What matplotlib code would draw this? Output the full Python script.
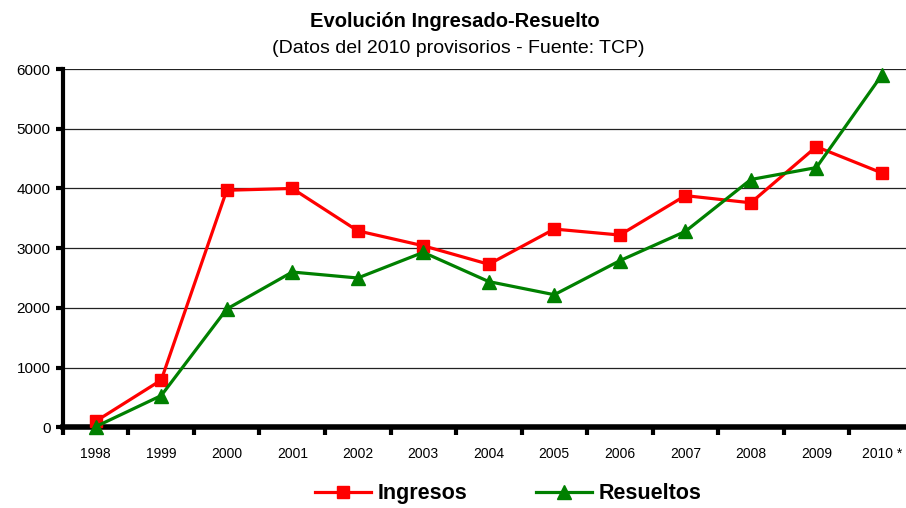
import matplotlib
matplotlib.use("Agg")
import matplotlib.pyplot as plt

plt.rcParams['font.family'] = ['Liberation Sans', 'DejaVu Sans']

years = ['1998', '1999', '2000', '2001', '2002', '2003', '2004',
         '2005', '2006', '2007', '2008', '2009', '2010 *']
ingresos = [100, 790, 3970, 4000, 3290, 3040, 2730, 3320, 3220, 3880, 3760, 4700, 4260]
resueltos = [10, 530, 1980, 2600, 2500, 2930, 2440, 2220, 2790, 3280, 4150, 4350, 5900]

fig = plt.figure(figsize=(9.06, 5.08), dpi=100)
ax = fig.add_axes([0.0695, 0.159, 0.940, 0.705])

x = list(range(len(years)))
ax.plot(x, ingresos, color='#ff0000', lw=2.3, marker='s', ms=8,
        label='Ingresos', clip_on=False, zorder=3)
ax.plot(x, resueltos, color='#008000', lw=2.3, marker='^', ms=9.5,
        label='Resueltos', clip_on=False, zorder=4)

ax.set_xlim(-0.5, len(years) - 0.5)
ax.set_ylim(0, 6000)
ax.set_yticks(range(0, 6001, 1000))
ax.yaxis.grid(True, color='#222222', lw=0.9)
ax.set_axisbelow(True)

ax.set_xticks([i + 0.5 for i in range(-1, len(years))])
ax.set_xticklabels([])
ax.set_xticks(x, minor=True)
ax.set_xticklabels(years, minor=True)
ax.tick_params(axis='x', which='minor', length=0, pad=14, labelsize=10)
ax.tick_params(axis='x', which='major', length=6, width=3, direction='out')
ax.tick_params(axis='y', length=5, width=3, labelsize=11, pad=4)

for s in ['top', 'right']:
    ax.spines[s].set_visible(False)
ax.spines['left'].set_linewidth(3)
ax.spines['bottom'].set_linewidth(4)

fig.text(0.502, 0.958, 'Evolución Ingresado-Resuelto', ha='center', va='center',
         fontsize=14.5, fontweight='bold')
fig.text(0.506, 0.905, '(Datos del 2010 provisorios - Fuente: TCP)', ha='center',
         va='center', fontsize=14)

fig.legend(loc='center', bbox_to_anchor=(0.561, 0.028), ncol=2, frameon=False,
           prop={'weight': 'bold', 'size': 15.5}, handlelength=2.6,
           columnspacing=3.2, handletextpad=0.3, borderpad=0)

fig.savefig('out.png', dpi=100)
